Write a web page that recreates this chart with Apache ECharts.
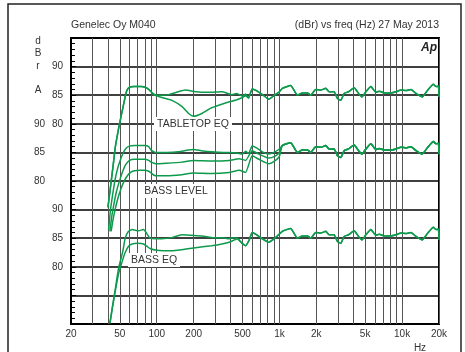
<!DOCTYPE html>
<html>
<head>
<meta charset="utf-8">
<script src="https://cdn.jsdelivr.net/npm/echarts@6/dist/echarts.min.js"></script>
<style>html,body{margin:0;padding:0;background:#fff;}#c{width:465px;height:352px;}</style>
</head>
<body>
<div id="c"></div>
<script>
// ---- axis definitions ----
const gridFreqs = [20,30,40,50,60,70,80,90,100,200,300,400,500,600,700,800,900,1000,2000,3000,4000,5000,6000,7000,8000,9000,10000,20000];
const labelFreqs = [20,50,100,200,500,1000,2000,5000,10000,20000];
const labelTexts = ['20','50','100','200','500','1k','2k','5k','10k','20k'];
// y panel units 0..50, one label slot per 5 units
const yLabelsInner = ['', '', '80', '85', '90', '', '', '80', '85', '90', ''];
const yLabelsOuter = ['', '', '', '', '', '80', '85', '90', '', '', ''];
// dB offsets of the three stacked panels
const offsetTabletop = 45, offsetBassLevel = 55, offsetBassEq = 70;

// ---- shared high-frequency response (Hz, dBr) ----
const hfFreq = [1056,1235,1401,1540,1692,1800,1978,2173,2388,2540,2791,2977,3167,3370,3660,4067,4420,4700,5070,5570,6120,6510,7160,8120,8920,9800,10770,11830,13000,14550,16200,18000,18940,19770,20000];
const hfDb   = [86.2,86.7,85.0,85.4,85.4,85.0,86.0,85.9,86.2,85.6,85.6,84.4,84.1,85.3,85.6,86.3,85.3,84.7,85.6,86.5,85.5,85.7,85.4,85.4,85.6,85.9,85.8,86.0,85.3,84.7,85.9,86.9,86.5,86.6,84.7];

// ---- TABLETOP EQ ----
const tt1Freq = [40,42,44,46,48.6,50.5,52.5,55,57,60,65,70,75,80,85,90,95,100,110,125,150,171,207,265,340,410,450,500,530,560,600,650,727,820,900,1000];
const tt1Db   = [65.4,69,72.5,76,78.9,80.7,82.4,84.5,85.8,86.4,86.5,86.5,86.5,86.4,86.1,85.6,85.2,85.0,85.0,85.1,85.6,85.9,85.6,85.5,85.6,85.1,85.3,84.8,85.2,84.5,86.1,85.8,85.1,84.3,84.9,85.6];
const tt2Freq = [40,42,44,46,48.6,50.5,52.5,55,57,60,65,70,75,80,85,90,95,100,110,133,161,182,200,233,274,320,385,450,500,530,560,600,650,727,820,900,1000];
const tt2Db   = [65.4,69,72.5,76,78.9,80.7,82.4,84.5,85.8,86.4,86.5,86.5,86.5,86.4,86.1,85.6,85.0,84.9,84.6,84.1,83.0,81.8,81.3,81.8,82.7,83.25,83.8,84.2,84.6,84.9,84.5,86.1,85.8,85.1,84.3,84.9,85.6];

// ---- BASS LEVEL ----
const bl1Freq = [40.5,42,44,46,48,50,53,56,60,66,72,80,86,90,95,100,120,150,180,200,230,280,350,400,450,500,530,560,600,650,727,820,900,1000];
const bl1Db   = [71.5,75,78,80.5,82.2,83.4,84.8,85.7,86.1,86.2,86.2,86.2,86.0,85.4,85.1,85.0,85.0,85.1,85.4,85.5,85.3,85.1,85.0,85.0,84.9,84.7,85.2,84.8,86.1,85.8,85.1,84.7,85.0,85.6];
const bl2Freq = [41.5,43,45,47,50,53,56,60,66,72,80,86,90,95,100,120,160,200,280,390,470,530,600,680,820,930,1000];
const bl2Db   = [71.2,73.8,76.2,78.2,80.2,81.8,82.9,83.6,83.8,83.8,83.8,83.6,83.3,83.1,83.0,83.1,83.3,83.6,83.5,83.6,83.9,83.6,85.3,84.7,84.0,84.4,85.0];
const bl3Freq = [42.5,44,46,48,51,54,58,62,66,72,80,86,90,95,100,120,160,200,280,390,470,530,600,680,820,930,1000];
const bl3Db   = [71.2,73.2,75.2,76.8,78.6,79.9,81.0,81.6,81.8,81.9,81.9,81.7,81.4,81.0,80.9,80.9,81.1,81.4,81.3,81.5,81.9,81.5,84.4,83.8,83.0,83.6,84.3];

// ---- BASS EQ ----
const eq1Freq = [41.5,43.5,45.6,48.9,52.9,55.3,58.9,62.9,71,78,83,88,100,110,133,160,193,234,282,341,387,413,453,497,530,565,600,640,727,820,930];
const eq1Db   = [70.1,73,75.7,79.8,82.7,85.0,86.2,86.5,86.3,86.5,85.8,85.0,84.9,84.9,85.1,85.6,85.5,85.4,85.1,85.1,84.9,85.1,85.0,84.1,83.7,84.6,86.0,85.7,84.9,84.3,85.1];
const eq2Freq = [41.5,43.5,45.6,48.9,52.9,55.3,58.9,63,70,78,83,88,100,133,160,200,280,340,390,430,453,497,530,565,600,640,727,820,930];
const eq2Db   = [70.1,72.8,75.4,78.8,81.3,82.5,83.6,84.0,84.1,84.0,83.6,83.2,82.9,82.8,83.0,83.3,83.7,84.0,84.3,84.7,84.9,84.1,83.7,84.6,86.0,85.7,84.9,84.3,85.1];

const GREEN = '#0e9a4c';
const FONT = '"Liberation Sans", Arial, sans-serif';

function build(freqs, dbs, offset, withHf) {
  const out = [];
  for (let i = 0; i < freqs.length; i++) out.push([Math.log10(freqs[i]), dbs[i] - offset]);
  if (withHf) for (let i = 0; i < hfFreq.length; i++) out.push([Math.log10(hfFreq[i]), hfDb[i] - offset]);
  return out;
}
function line(data) {
  return { type: 'line', data: data, showSymbol: false, symbol: 'none', smooth: 0.15, z: 3,
    lineStyle: { color: GREEN, width: 1.5 }, silent: true, animation: false };
}

const chart = echarts.init(document.getElementById('c'), null, { renderer: 'canvas' });
chart.setOption({
  animation: false,
  backgroundColor: '#fff',
  grid: { left: 71, right: 26, top: 38, bottom: 28, show: true, borderColor: '#000', borderWidth: 2, backgroundColor: 'transparent' },
  xAxis: {
    type: 'value', min: Math.log10(20), max: Math.log10(20000),
    axisLine: { show: false },
    axisTick: { show: false, customValues: gridFreqs.map(Math.log10) },
    splitLine: { show: true, lineStyle: { color: '#555', width: 1 } },
    axisLabel: {
      customValues: labelFreqs.map(Math.log10), margin: 5,
      color: '#333', fontSize: 10, fontFamily: FONT,
      formatter: function (v) {
        let best = 0, d = 1e9;
        for (let i = 0; i < labelFreqs.length; i++) { const dd = Math.abs(Math.log10(labelFreqs[i]) - v); if (dd < d) { d = dd; best = i; } }
        return labelTexts[best];
      }
    }
  },
  yAxis: [{
    type: 'value', min: 0, max: 50, interval: 5, position: 'left',
    axisLine: { show: true, lineStyle: { color: '#000', width: 2 } },
    axisTick: { show: true, inside: true, length: 5, lineStyle: { color: '#000' } },
    minorTick: { show: true, splitNumber: 5, length: 4, lineStyle: { color: '#000', width: 1 } },
    splitLine: { show: true, lineStyle: { color: '#000', width: 1.6 } },
    axisLabel: { margin: 8, color: '#333', fontSize: 10, fontFamily: FONT,
      formatter: function (v) { return yLabelsInner[Math.round(v / 5)] || ''; } }
  }, {
    type: 'value', min: 0, max: 50, interval: 5, position: 'left',
    axisLine: { show: false }, axisTick: { show: false }, splitLine: { show: false },
    axisLabel: { margin: 26, color: '#333', fontSize: 10, fontFamily: FONT,
      formatter: function (v) { return yLabelsOuter[Math.round(v / 5)] || ''; } }
  }],
  series: [
    line(build(tt1Freq, tt1Db, offsetTabletop, true)),
    line(build(tt2Freq, tt2Db, offsetTabletop, true)),
    line(build(bl1Freq, bl1Db, offsetBassLevel, true)),
    line(build(bl2Freq, bl2Db, offsetBassLevel, true)),
    line(build(bl3Freq, bl3Db, offsetBassLevel, true)),
    line(build(eq1Freq, eq1Db, offsetBassEq, true)),
    line(build(eq2Freq, eq2Db, offsetBassEq, true))
  ],
  graphic: [
    { type: 'rect', z: 0, silent: true, shape: { x: 8, y: 4, width: 453, height: 380 }, style: { fill: 'none', stroke: '#222', lineWidth: 1.5 } },
    { type: 'text', x: 71, y: 25, z: 5, style: { text: 'Genelec Oy M040', font: '10.5px ' + FONT, fill: '#333', align: 'left', verticalAlign: 'middle' } },
    { type: 'text', x: 439, y: 25, z: 5, style: { text: '(dBr) vs freq (Hz) 27 May 2013', font: '10.5px ' + FONT, fill: '#333', align: 'right', verticalAlign: 'middle' } },
    { type: 'text', x: 437, y: 48, z: 5, style: { text: 'Ap', font: 'italic bold 12px ' + FONT, fill: '#222', align: 'right', verticalAlign: 'middle' } },
    { type: 'text', x: 38, y: 35, z: 5, style: { text: 'd\nB\nr\n\nA', font: '10px ' + FONT, fill: '#333', align: 'center', verticalAlign: 'top', lineHeight: 12.3 } },
    { type: 'text', x: 420, y: 348, z: 5, style: { text: 'Hz', font: '10px ' + FONT, fill: '#333', align: 'center', verticalAlign: 'middle' } },
    { type: 'text', x: 193, y: 124, z: 1, style: { text: 'TABLETOP EQ', font: '10.5px ' + FONT, fill: '#333', align: 'center', verticalAlign: 'middle', backgroundColor: '#fff', padding: [2, 3, 1, 3] } },
    { type: 'text', x: 176, y: 191, z: 1, style: { text: 'BASS LEVEL', font: '10.5px ' + FONT, fill: '#333', align: 'center', verticalAlign: 'middle', backgroundColor: '#fff', padding: [2, 3, 1, 3] } },
    { type: 'text', x: 154, y: 260, z: 1, style: { text: 'BASS EQ', font: '10.5px ' + FONT, fill: '#333', align: 'center', verticalAlign: 'middle', backgroundColor: '#fff', padding: [2, 3, 1, 3] } }
  ]
});
</script>
</body>
</html>
